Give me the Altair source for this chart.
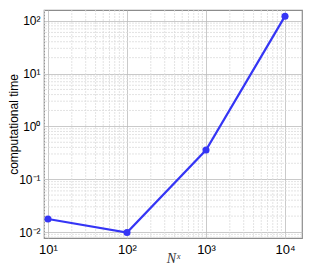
import altair as alt
import pandas as pd

nx = [10, 100, 1000, 10000]
comp_time = [0.0176, 0.0098, 0.356, 122]

x_major = [10, 100, 1000, 10000]
y_major = [0.01, 0.1, 1, 10, 100]
x_minor = [9] + [m * 10 ** k for k in range(1, 4) for m in range(2, 10)]
y_minor = [0.008, 0.009] + [m * 10.0 ** k for k in range(-2, 2) for m in range(2, 10)]

x_dom = [8.9, 16400]
y_dom = [0.0077, 159.6]

df = pd.DataFrame({"nx": nx, "t": comp_time})
xs = alt.Scale(type="log", domain=x_dom, nice=False)
ys = alt.Scale(type="log", domain=y_dom, nice=False)

lblexpr_x = "datum.value==10?'10¹':datum.value==100?'10²':datum.value==1000?'10³':'10⁴'"
lblexpr_y = "datum.value<0.05?'10⁻²':datum.value<0.5?'10⁻¹':datum.value<5?'10⁰':datum.value<50?'10¹':'10²'"

xaxis = alt.Axis(values=x_major, labelExpr=lblexpr_x, grid=True,
                 gridColor="#bdbdbd", gridWidth=0.8, ticks=False,
                 domain=False, labelPadding=5, labelFontSize=13,
                 labelFont="Liberation Sans", labelColor="#000",
                 titleFont="Liberation Serif", titleFontStyle="italic",
                 titleFontWeight="normal", titleFontSize=14,
                 titleX=129, titleY=27, titleAnchor="middle", titleAlign="center",
                 titleBaseline="bottom", titleColor="#333")
yaxis = alt.Axis(values=y_major, labelExpr=lblexpr_y, grid=True,
                 gridColor="#bdbdbd", gridWidth=0.8, ticks=False,
                 domain=False, labelPadding=4, labelFontSize=12,
                 labelFont="Liberation Sans", labelColor="#000",
                 titleFont="Liberation Sans", titleFontWeight="normal",
                 titleFontSize=12, titleX=-35.5, titleY=114, titleAngle=270,
                 titleAlign="center", titleBaseline="top", titleColor="#000")

xminor = alt.Chart(pd.DataFrame({"v": x_minor})).mark_rule(
    color="#dcdcdc", strokeWidth=0.8, strokeDash=[2, 1]
).encode(x=alt.X("v:Q", scale=xs, title="Nˣ", axis=xaxis))
yminor = alt.Chart(pd.DataFrame({"v": y_minor})).mark_rule(
    color="#dcdcdc", strokeWidth=0.8, strokeDash=[2, 1]
).encode(y=alt.Y("v:Q", scale=ys, title="computational time", axis=yaxis))

line = alt.Chart(df).mark_line(
    color="#3535f5", strokeWidth=2.2,
    point=alt.OverlayMarkDef(color="#3535f5", size=50, filled=True, opacity=1),
).encode(
    x=alt.X("nx:Q", scale=xs, title="Nˣ", axis=xaxis),
    y=alt.Y("t:Q", scale=ys, title="computational time", axis=yaxis),
)

chart = alt.layer(xminor, yminor, line).properties(
    width=258, height=228,
    autosize=alt.AutoSizeParams(type="none"),
    padding={"left": 36, "top": 2, "right": 7, "bottom": 27},
).configure_view(stroke="#8c8c8c", strokeWidth=1.2)

chart.save("out.html", embed_options={"renderer": "svg", "actions": False})
